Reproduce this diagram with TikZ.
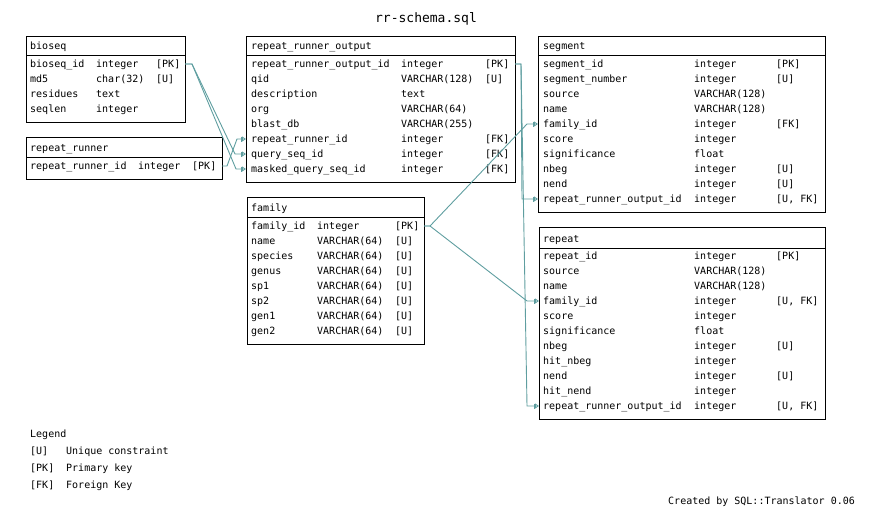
\documentclass[tikz,border=0pt]{standalone}
\usepackage{fontspec}
\setmonofont{DejaVu Sans Mono}
\usetikzlibrary{arrows.meta, calc}
\definecolor{fkline}{RGB}{95,158,160}

\tikzset{
  tbl/.style = {draw, line width=1pt, inner sep=0pt, outer sep=0pt, anchor=north west},
  cell/.style = {inner sep=0pt, anchor=west, text height=8pt, text depth=1pt,
                 font=\ttfamily\fontsize{10}{12}\selectfont},
  fk/.style = {draw=fkline, line width=0.9pt,
               -{Bar[width=5pt] Triangle[open, length=4pt, width=5pt]}},
}

\begin{document}
\begin{tikzpicture}[x=1pt, y=-1pt]
	\useasboundingbox (0,0) rectangle (885,512);
	\node[font=\ttfamily\fontsize{13}{15}\selectfont] (title) at (426,19) {rr-schema.sql};

	% bioseq
	\node[tbl, minimum width=159pt, minimum height=19pt] (bioseq) at (26,36) {};
	\node[tbl, minimum width=159pt, minimum height=67pt] (bioseq-b) at (bioseq.south west) {};
	\node[cell] (bioseq-t) at (30,46) {bioseq};
	\foreach \nm/\ty/\ky [count=\i] in {bioseq\_id/integer/[PK], md5/char(32)/[U], residues/text/, seqlen/integer/} {
		\node[cell] (bioseq-\i) at (30,49+15*\i) {\nm};
		\node[cell] (bioseq-\i-t) at (96,49+15*\i) {\ty};
		\node[cell] (bioseq-\i-k) at (156,49+15*\i) {\ky};
	}

	% repeat_runner
	\node[tbl, minimum width=196pt, minimum height=20pt] (rr) at (26,137) {};
	\node[tbl, minimum width=196pt, minimum height=22pt] (rr-b) at (rr.south west) {};
	\node[cell] (rr-t) at (30,148) {repeat\_runner};
	\node[cell] (rr-1) at (30,166) {repeat\_runner\_id};
	\node[cell] (rr-1-t) at (138,166) {integer};
	\node[cell] (rr-1-k) at (192,166) {[PK]};

	% repeat_runner_output
	\node[tbl, minimum width=269pt, minimum height=19pt] (rro) at (246,36) {};
	\node[tbl, minimum width=269pt, minimum height=127pt] (rro-b) at (rro.south west) {};
	\node[cell] (rro-t) at (251,46) {repeat\_runner\_output};
	\foreach \nm/\ty/\ky [count=\i] in {repeat\_runner\_output\_id/integer/[PK], qid/VARCHAR(128)/[U],
		description/text/, org/VARCHAR(64)/, blast\_db/VARCHAR(255)/, repeat\_runner\_id/integer/[FK],
		query\_seq\_id/integer/[FK], masked\_query\_seq\_id/integer/[FK]} {
		\node[cell] (rro-\i) at (251,49+15*\i) {\nm};
		\node[cell] (rro-\i-t) at (401,49+15*\i) {\ty};
		\node[cell] (rro-\i-k) at (485,49+15*\i) {\ky};
	}

	% family
	\node[tbl, minimum width=177pt, minimum height=20pt] (fam) at (247,197) {};
	\node[tbl, minimum width=177pt, minimum height=127pt] (fam-b) at (fam.south west) {};
	\node[cell] (fam-t) at (251,208) {family};
	\foreach \nm/\ty/\ky [count=\i] in {family\_id/integer/[PK], name/VARCHAR(64)/[U], species/VARCHAR(64)/[U],
		genus/VARCHAR(64)/[U], sp1/VARCHAR(64)/[U], sp2/VARCHAR(64)/[U], gen1/VARCHAR(64)/[U], gen2/VARCHAR(64)/[U]} {
		\node[cell] (fam-\i) at (251,211+15*\i) {\nm};
		\node[cell] (fam-\i-t) at (317,211+15*\i) {\ty};
		\node[cell] (fam-\i-k) at (395,211+15*\i) {\ky};
	}

	% segment
	\node[tbl, minimum width=287pt, minimum height=19pt] (seg) at (538,36) {};
	\node[tbl, minimum width=287pt, minimum height=157pt] (seg-b) at (seg.south west) {};
	\node[cell] (seg-t) at (543,46) {segment};
	\foreach \nm/\ty/\ky [count=\i] in {segment\_id/integer/[PK], segment\_number/integer/[U], source/VARCHAR(128)/,
		name/VARCHAR(128)/, family\_id/integer/[FK], score/integer/, significance/float/, nbeg/integer/[U],
		nend/integer/[U], repeat\_runner\_output\_id/integer/{[U, FK]}} {
		\node[cell] (seg-\i) at (543,49+15*\i) {\nm};
		\node[cell] (seg-\i-t) at (694,49+15*\i) {\ty};
		\node[cell] (seg-\i-k) at (776,49+15*\i) {\ky};
	}

	% repeat
	\node[tbl, minimum width=286pt, minimum height=21pt] (rep) at (539,227) {};
	\node[tbl, minimum width=286pt, minimum height=171pt] (rep-b) at (rep.south west) {};
	\node[cell] (rep-t) at (543,239) {repeat};
	\foreach \nm/\ty/\ky [count=\i] in {repeat\_id/integer/[PK], source/VARCHAR(128)/, name/VARCHAR(128)/,
		family\_id/integer/{[U, FK]}, score/integer/, significance/float/, nbeg/integer/[U], hit\_nbeg/integer/,
		nend/integer/[U], hit\_nend/integer/, repeat\_runner\_output\_id/integer/{[U, FK]}} {
		\node[cell] (rep-\i) at (543,241+15*\i) {\nm};
		\node[cell] (rep-\i-t) at (694,241+15*\i) {\ty};
		\node[cell] (rep-\i-k) at (776,241+15*\i) {\ky};
	}

	% foreign keys
	\draw[fk] (bioseq-b.east |- bioseq-1) -- ++(7,0) -- ($(rro-b.west |- rro-7)+(-11,0)$) -- (rro-b.west |- rro-7);
	\draw[fk] (bioseq-b.east |- bioseq-1) -- ++(7,0) -- ($(rro-b.west |- rro-8)+(-10,0)$) -- (rro-b.west |- rro-8);
	\draw[fk] (rr-b.east |- rr-1) -- ++(5,0) -- ($(rro-b.west |- rro-6)+(-9,0)$) -- (rro-b.west |- rro-6);
	\draw[fk] (rro-b.east |- rro-1) -- ++(6,0) -- ($(seg-b.west |- seg-10)+(-16,0)$) -- (seg-b.west |- seg-10);
	\draw[fk] (rro-b.east |- rro-1) -- ++(6,0) -- ($(rep-b.west |- rep-11)+(-12,0)$) -- (rep-b.west |- rep-11);
	\draw[fk] (fam-b.east |- fam-1) -- ++(6,0) -- ($(seg-b.west |- seg-5)+(-11,0)$) -- (seg-b.west |- seg-5);
	\draw[fk] (fam-b.east |- fam-1) -- ++(6,0) -- ($(rep-b.west |- rep-4)+(-12,0)$) -- (rep-b.west |- rep-4);

	% legend
	\node[cell] (legend) at (30,434) {Legend};
	\foreach \ky/\desc [count=\i] in {[U]/Unique constraint, [PK]/Primary key, [FK]/Foreign Key} {
		\node[cell] (legend-\i) at (30,434+17*\i) {\ky};
		\node[cell] (legend-\i-d) at (66,434+17*\i) {\desc};
	}
	\node[cell] (credit) at (668,501) {Created by SQL::Translator 0.06};
\end{tikzpicture}
\end{document}
